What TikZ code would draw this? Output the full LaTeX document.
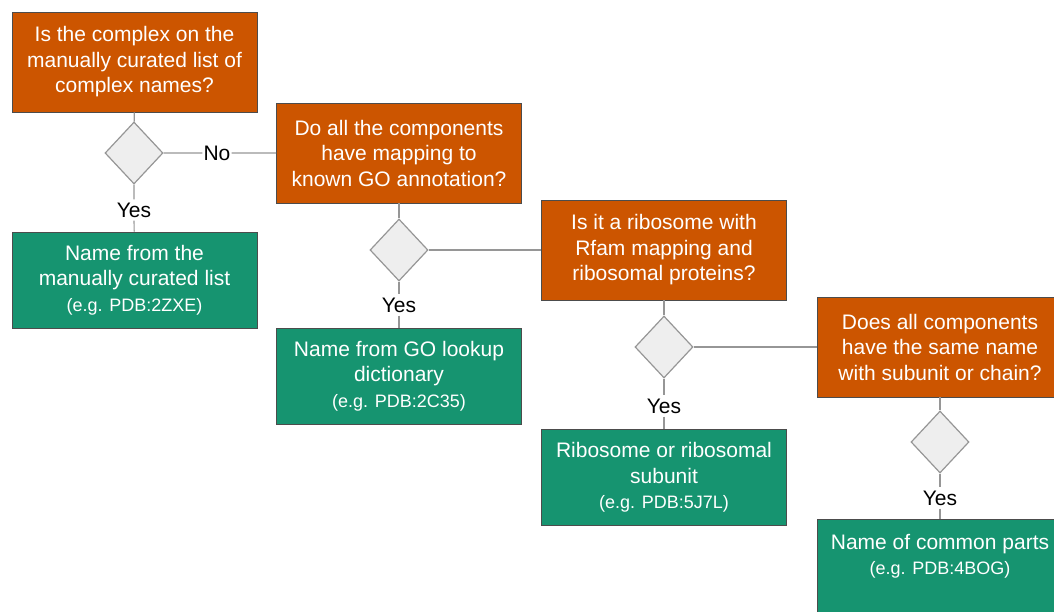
\documentclass[tikz,border=0pt]{standalone}
\usepackage{fontspec}
\setmainfont{Liberation Sans}
\usetikzlibrary{shapes.geometric}
\definecolor{qorange}{RGB}{204,85,0}
\definecolor{agreen}{RGB}{22,148,112}
\definecolor{dgray}{RGB}{238,238,238}
\definecolor{lgray}{RGB}{150,150,150}
\newcommand{\eg}[1]{{\fontsize{18}{22}\selectfont (e.g. PDB:#1)}}
\begin{document}
\begin{tikzpicture}[x=1pt,y=-1pt,
        question/.style={draw=black!70,line width=0.8pt,fill=qorange,text=white,align=center,
            minimum width=245pt,minimum height=100pt,font=\fontsize{21}{25.5}\selectfont},
        answer/.style={question,fill=agreen,minimum height=96pt},
        choice/.style={diamond,draw=lgray,line width=1.2pt,fill=dgray,inner sep=0pt,
            minimum width=58pt,minimum height=62pt},
        lbl/.style={inner sep=3pt,font=\fontsize{21}{24}\selectfont},
        link/.style={draw=lgray,line width=1.2pt}]
        \useasboundingbox (0,0) rectangle (1054,611);
        \clip (0,0) rectangle (1054,611);
        % questions
        \node[question] (q1) at (134.5,62) {Is the complex on the\\manually curated list of\\complex names?};
        \node[question] (q2) at (399,153) {Do all the components\\have mapping to\\known GO annotation?};
        \node[question] (q3) at (664,250) {Is it a ribosome with\\Rfam mapping and\\ribosomal proteins?};
        \node[question] (q4) at (940,347) {Does all components\\have the same name\\with subunit or chain?};
        % decisions
        \node[choice] (d1) at (134,153) {};
        \node[choice] (d2) at (399,250) {};
        \node[choice] (d3) at (664,347) {};
        \node[choice] (d4) at (940,442) {};
        % answers
        \node[answer] (a1) at (134.5,280) {Name from the\\manually curated list\\\eg{2ZXE}};
        \node[answer] (a2) at (399,376) {Name from GO lookup\\dictionary\\\eg{2C35}};
        \node[answer] (a3) at (664,477.5) {Ribosome or ribosomal\\subunit\\\eg{5J7L}};
        \node[answer] (a4) at (940,567) {Name of common parts\\\eg{4BOG}\\\mbox{}};
        % labels
        \node[lbl] (y1) at (134,210) {Yes};
        \node[lbl] (y2) at (399,305) {Yes};
        \node[lbl] (y3) at (664,406) {Yes};
        \node[lbl] (y4) at (940,498) {Yes};
        \node[lbl,inner xsep=1pt] (n1) at (217,153) {No};
        % connectors
        \path[link] (q1) -- (d1) (d1) -- (y1) (y1) -- (a1) (d1) -- (n1) (n1) -- (q2);
        \path[link] (q2) -- (d2) (d2) -- (y2) (y2) -- (a2) (d2) -- (q3);
        \path[link] (q3) -- (d3) (d3) -- (y3) (y3) -- (a3) (d3) -- (q4);
        \path[link] (q4) -- (d4) (d4) -- (y4) (y4) -- (a4);
\end{tikzpicture}
\end{document}
